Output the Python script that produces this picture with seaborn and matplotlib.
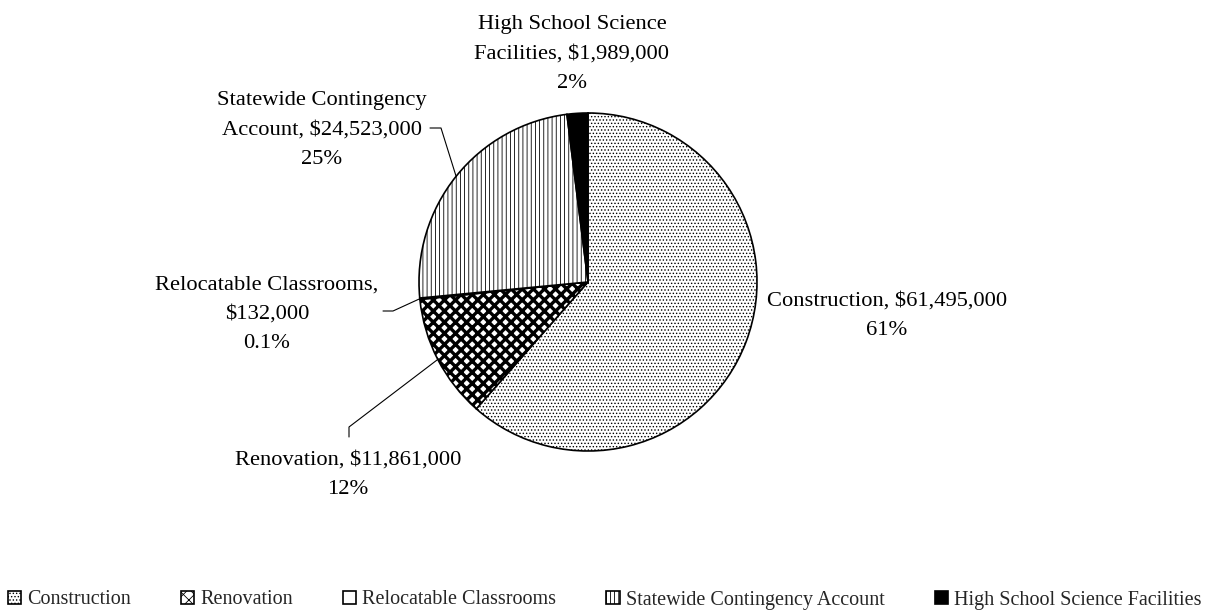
import textwrap
import matplotlib
matplotlib.use("Agg")
import matplotlib.pyplot as plt
import seaborn as sns
import numpy as np

# ---- data ----
categories = ["Construction", "Renovation", "Relocatable Classrooms",
              "Statewide Contingency Account", "High School Science Facilities"]
amounts = [61495000, 11861000, 132000, 24523000, 1989000]

# ---- style ----
sns.set_theme(style="white")
plt.rcParams["font.family"] = ["Liberation Serif", "DejaVu Serif"]
plt.rcParams["hatch.linewidth"] = 0.6

W, H = 1209, 614
fig = plt.figure(figsize=(W / 100, H / 100), dpi=100)
cx, cy, r = 588, 282, 169
ax = fig.add_axes([(cx - r) / W, (H - cy - r) / H, 2 * r / W, 2 * r / H])

hatches = [".....", "xxx", "", "||||", ""]
hatch_lw = [0.6, 2.4, 0.6, 0.6, 0.6]
faces = ["white", "white", "white", "white", "black"]
wedges, _ = ax.pie(amounts, startangle=90, counterclock=False, colors=faces,
                   wedgeprops=dict(edgecolor="black", linewidth=1.2))
for w, h, hl in zip(wedges, hatches, hatch_lw):
    w.set_hatch(h)
    if hasattr(w, "set_hatch_linewidth"):
        w.set_hatch_linewidth(hl)
ax.set_xlim(-1, 1)
ax.set_ylim(-1, 1)
ax.axis("off")


def px(x, y):
    return ((x - cx) / r, (cy - y) / r)


total = sum(amounts)
wrap_w = [30, 30, 23, 21, 22]
text_pos = [(887, 316), (348, 475), (267, 314), (322, 130), (572, 54)]
elbows = [None, [(349, 427), (349, 437)], [(393, 311), (383, 311)],
          [(441, 128), (430, 128)], None]

for i, (name, amt) in enumerate(zip(categories, amounts)):
    p = amt / total * 100
    pct = f"{p:.0f}%" if p >= 1 else f"{p:.1f}%"
    txt = textwrap.fill(f"{name}, ${amt:,.0f}", wrap_w[i]) + "\n" + pct
    tx, ty = px(*text_pos[i])
    ax.text(tx, ty, txt, ha="center", va="center", fontsize=16.2,
            linespacing=1.74, clip_on=False, color="black")
    if elbows[i] is not None:
        w = wedges[i]
        th = np.deg2rad((w.theta1 + w.theta2) / 2)
        pts = [(np.cos(th), np.sin(th))] + [px(*e) for e in elbows[i]]
        xs, ys = zip(*pts)
        ax.plot(xs, ys, color="black", lw=0.8, clip_on=False)

fig.legend(wedges, categories, loc="center", bbox_to_anchor=(0.5, 14 / H),
           ncol=5, frameon=False, fontsize=14.5, handlelength=0.65,
           handleheight=0.65, columnspacing=2.5, handletextpad=0.3)

fig.savefig("out.png", dpi=100, facecolor="white")
